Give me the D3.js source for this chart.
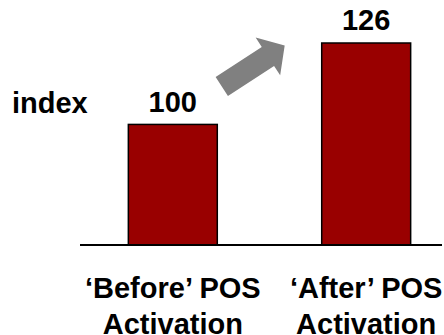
<!DOCTYPE html>
<html>
<head>
<meta charset="utf-8">
<script src="https://cdn.jsdelivr.net/npm/d3@7"></script>
<style>
  body { margin: 0; background: white; }
  text { font-family: "Liberation Sans", Arial, sans-serif; font-weight: bold; }
</style>
</head>
<body>
<div id="container"></div>
<script>
let categories = ["before", "after"];
let labelLine1 = ["\u2018Before\u2019 POS", "\u2018After\u2019 POS"];
let labelLine2 = ["Activation", "Activation"];
let values = [100, 126];
let unitLabel = "index";

let w = 444;
let h = 335;

let viz = d3.select("#container")
  .append("svg")
    .attr("width", w)
    .attr("height", h)
    .style("background-color", "white")
;

let xScale = d3.scaleBand()
    .domain(categories)
    .range([80, 459])
    .paddingInner(0.54)
    .paddingOuter(0.25)
;

let yScale = d3.scaleLinear().domain([61.5, 126]).range([245, 43]);

function xPos(d, i){
    return xScale(categories[i]);
}

function xMid(d, i){
    return xScale(categories[i]) + xScale.bandwidth() / 2;
}

// bars
viz.selectAll(".bar").data(values).enter()
  .append("rect")
    .classed("bar", true)
    .attr("x", xPos)
    .attr("y", d => yScale(d))
    .attr("width", xScale.bandwidth())
    .attr("height", d => yScale.range()[0] - yScale(d))
    .attr("fill", "#990000")
    .attr("stroke", "black")
    .attr("stroke-width", 1.5)
;

// baseline
viz.append("line")
    .attr("x1", 80)
    .attr("x2", 442)
    .attr("y1", yScale.range()[0])
    .attr("y2", yScale.range()[0])
    .attr("stroke", "black")
    .attr("stroke-width", 2)
;

// value labels
viz.selectAll(".val").data(values).enter()
  .append("text")
    .classed("val", true)
    .text(d => d)
    .attr("x", xMid)
    .attr("y", (d, i) => yScale(d) - 12 - i * 1.5)
    .attr("text-anchor", "middle")
    .style("font-size", "29px")
;

viz.append("text")
    .text(unitLabel)
    .attr("x", 12)
    .attr("y", yScale(values[0]) - 11.5)
    .style("font-size", "29px")
;

// category labels
let labels = viz.selectAll(".cat").data(categories).enter()
  .append("text")
    .classed("cat", true)
    .attr("text-anchor", "middle")
    .style("font-size", "29px")
;

labels.append("tspan")
    .attr("x", xMid)
    .attr("y", 298)
    .text((d, i) => labelLine1[i])
;

labels.append("tspan")
    .attr("x", xMid)
    .attr("y", 334)
    .text((d, i) => labelLine2[i])
;

// block arrow between the bars
let tailX = xScale(categories[0]) + xScale.bandwidth() + 4.5;
let tailY = yScale(values[0]) - 38;
let angle = -33;
let shaftLen = 55;
let shaftW = 22.6;
let headLen = 20;
let headW = 45;

let arrowPts = [
    [0, -shaftW / 2],
    [shaftLen, -shaftW / 2],
    [shaftLen, -headW / 2],
    [shaftLen + headLen, 0],
    [shaftLen, headW / 2],
    [shaftLen, shaftW / 2],
    [0, shaftW / 2]
];

viz.append("path")
    .attr("d", d3.line()(arrowPts) + "Z")
    .attr("fill", "#808080")
    .attr("transform", "translate(" + tailX + "," + tailY + ") rotate(" + angle + ")")
;
</script>
</body>
</html>
